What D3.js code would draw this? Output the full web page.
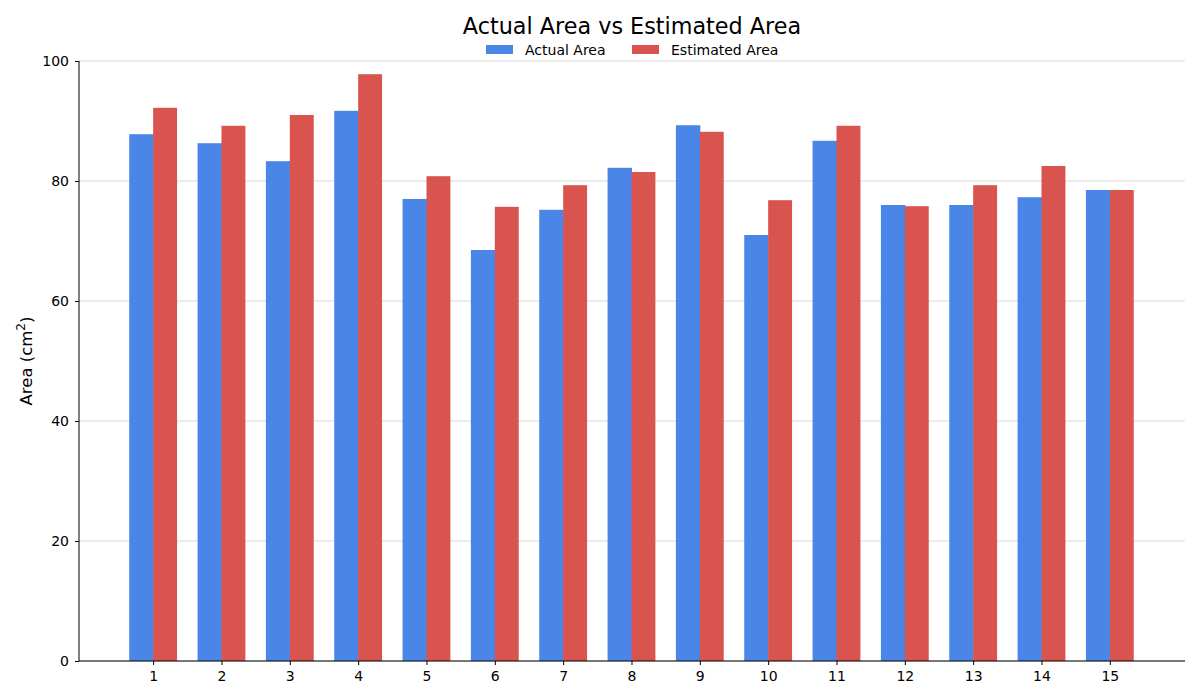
<!DOCTYPE html>
<html><head><meta charset="utf-8">
<script src="https://cdn.jsdelivr.net/npm/d3@7"></script>
<style>body{margin:0;background:#fff;} svg{display:block;font-family:"DejaVu Sans",sans-serif;}</style>
</head><body>
<svg id="chart" width="1200" height="700"></svg>
<script>
const categories = [1,2,3,4,5,6,7,8,9,10,11,12,13,14,15];
const actualArea = [87.8,86.3,83.3,91.7,77.0,68.5,75.2,82.2,89.3,71.0,86.7,76.0,76.0,77.3,78.5];
const estimatedArea = [92.2,89.2,91.0,97.8,80.8,75.7,79.3,81.5,88.2,76.8,89.2,75.8,79.3,82.5,78.5];
const yTicks = [0,20,40,60,80,100];
const seriesNames = ["Actual Area","Estimated Area"];
const colors = ["#4a86e8","#d9534f"];

const svg = d3.select("#chart");
const m = {left:79, right:1185, top:61, bottom:661};
const x = d3.scaleLinear().domain([1-1.085, 15+1.1]).range([m.left, m.right]);
const y = d3.scaleLinear().domain([0,100]).range([m.bottom, m.top]);
const bw = x(1.35) - x(1);

// grid
svg.append("g").selectAll("line").data(yTicks).join("line")
  .attr("x1", m.left).attr("x2", m.right)
  .attr("y1", d=>y(d)).attr("y2", d=>y(d))
  .attr("stroke","#d9d9d9").attr("stroke-width",1);

// bars
const series = [actualArea, estimatedArea];
series.forEach((vals, si) => {
  svg.append("g").selectAll("rect").data(vals).join("rect")
    .attr("x", (d,i)=> si===0 ? x(categories[i]) - bw : x(categories[i]))
    .attr("width", bw + (si===0 ? 0.5 : 0))
    .attr("y", d=>y(d))
    .attr("height", d=>y(0)-y(d))
    .attr("fill", colors[si]);
});

// axes
const yAxis = d3.axisLeft(y).tickValues(yTicks).tickSize(4).tickPadding(6);
const gy = svg.append("g").attr("transform",`translate(${m.left},0)`).call(yAxis);
gy.select(".domain").attr("d", `M0,${m.bottom}V${m.top}`).attr("stroke","#000");
gy.selectAll("text").attr("font-size",14).attr("font-family","DejaVu Sans").attr("fill","#000");

const xAxis = d3.axisBottom(x).tickValues(categories).tickFormat(d3.format("d")).tickSize(4).tickPadding(6);
const gx = svg.append("g").attr("transform",`translate(0,${m.bottom})`).call(xAxis);
gx.select(".domain").attr("d", `M${m.left},0H${m.right}`).attr("stroke","#000");
gx.selectAll("text").attr("font-size",14).attr("font-family","DejaVu Sans").attr("fill","#000");

// title
svg.append("text").attr("x", 632).attr("y", 34).attr("text-anchor","middle")
  .attr("font-size",22.3).attr("fill","#000").text("Actual Area vs Estimated Area");

// legend
const legend = [{x:486, tx:525},{x:632, tx:671}];
legend.forEach((l,i)=>{
  svg.append("rect").attr("x", l.x).attr("y", 45).attr("width",27).attr("height",9).attr("fill",colors[i]);
  svg.append("text").attr("x", l.tx).attr("y", 54.5).attr("font-size",14).attr("fill","#000").text(seriesNames[i]);
});

// y label
const yl = svg.append("text").attr("transform","translate(32,361) rotate(-90)")
  .attr("text-anchor","middle").attr("font-size",16.5).attr("fill","#000");
yl.append("tspan").text("Area (cm");
yl.append("tspan").attr("font-size",12).attr("dy",-7).text("2");
yl.append("tspan").attr("dy",7).text(")");
</script>
</body></html>
